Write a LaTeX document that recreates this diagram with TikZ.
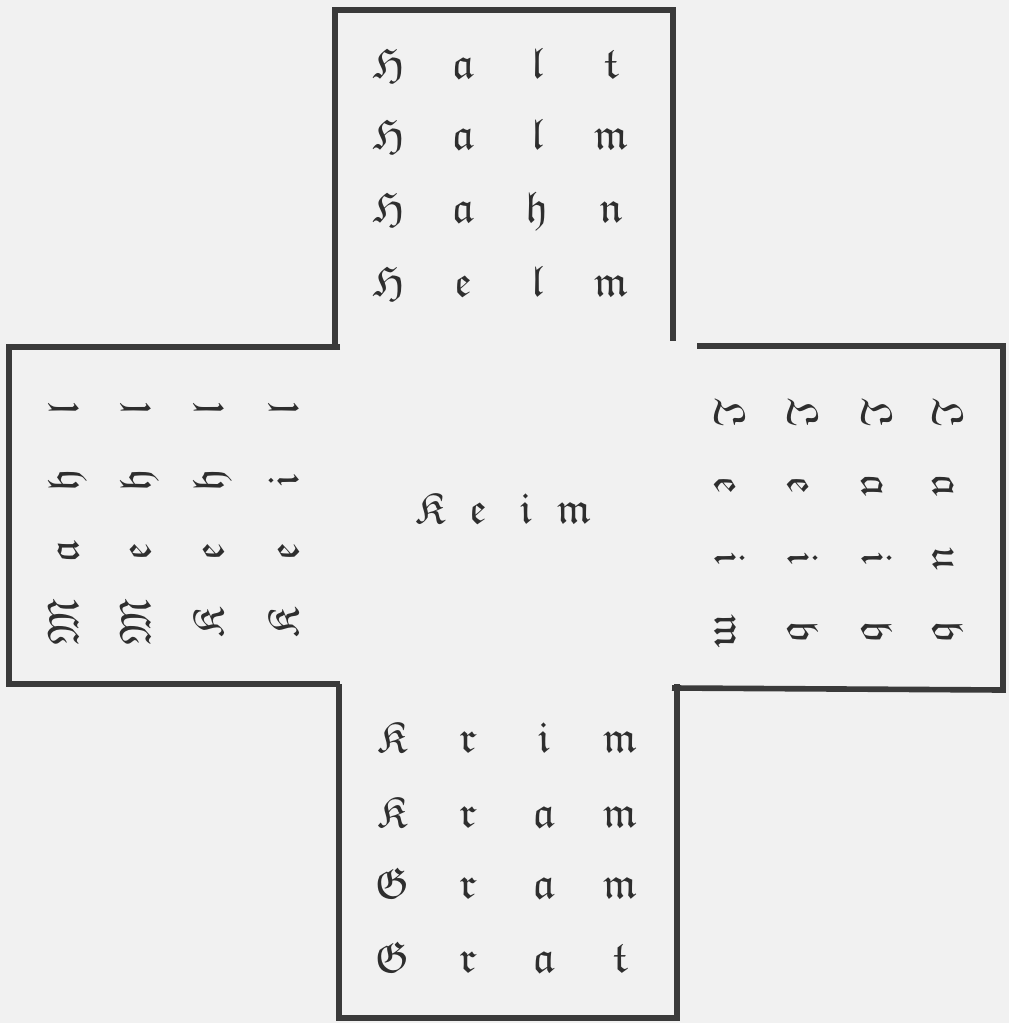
\documentclass[tikz,border=0pt]{standalone}
\usepackage{amssymb}
\usepackage{xcolor}

\definecolor{ink}{HTML}{2E2E2E}
\definecolor{rule}{HTML}{3A3A3A}
\definecolor{paper}{HTML}{F1F1F1}

% four letters of a word, each centred in a cell of width #1
\newcommand\frakcell[2]{\makebox[#1]{$\mathfrak{#2}$}}
\newcommand\spreadfour[5]{\frakcell{#1}{#2}\frakcell{#1}{#3}\frakcell{#1}{#4}\frakcell{#1}{#5}}
\newcommand\frakword[2][1.48cm]{\spreadfour{#1}#2}

\begin{document}
\begin{tikzpicture}[x=0.02cm, y=-0.02cm,
    word/.style={inner sep=0pt, anchor=base, text=ink,
        font=\fontsize{25}{28}\selectfont},
    arm/.style={draw=rule, line width=3.2pt}]
    \fill[paper] (0,0) rectangle (1009,1023);
    \useasboundingbox (0,0) rectangle (1009,1023);

    % 1. Umriss des Kreuzes
    \draw[arm] (335,348) -- (335,10) -- (673,10) -- (673,341);
    \draw[arm] (340,347) -- (9,347) -- (9,684) -- (340,684);
    \draw[arm] (697,346) -- (1003,346) -- (1003,690) -- (672,688);
    \draw[arm] (339,684) -- (339,1018) -- (677,1018) -- (677,684);

    % 2. Oberer Arm
    \node[word] (halt) at (500,79)  {\frakword{Halt}};
    \node[word] (halm) at (500,150) {\frakword{Halm}};
    \node[word] (hahn) at (500,223) {\frakword{Hahn}};
    \node[word] (helm) at (500,297) {\frakword{Helm}};

    % 3. Mitte
    \node[word] (keim) at (502,523) {\frakword[0.96cm]{Keim}};

    % 4. Unterer Arm
    \node[word] (krim) at (506,752) {\frakword[1.52cm]{Krim}};
    \node[word] (kram) at (506,827) {\frakword[1.52cm]{Kram}};
    \node[word] (gram) at (506,898) {\frakword[1.52cm]{Gram}};
    \node[word] (grat) at (506,972) {\frakword[1.52cm]{Grat}};

    % 5. Linker Arm (von unten nach oben zu lesen)
    \node[word, rotate=90] (mahl) at (78,516)  {\frakword[1.42cm]{Mahl}};
    \node[word, rotate=90] (mehl) at (150,516) {\frakword[1.42cm]{Mehl}};
    \node[word, rotate=90] (kehl) at (223,516) {\frakword[1.42cm]{Kehl}};
    \node[word, rotate=90] (keil) at (298,516) {\frakword[1.42cm]{Keil}};

    % 6. Rechter Arm (von oben nach unten zu lesen)
    \node[word, rotate=-90] (leim) at (715,522) {\frakword[1.46cm]{Leim}};
    \node[word, rotate=-90] (leib) at (788,522) {\frakword[1.46cm]{Leib}};
    \node[word, rotate=-90] (laib) at (862,522) {\frakword[1.46cm]{Laib}};
    \node[word, rotate=-90] (laub) at (933,522) {\frakword[1.46cm]{Laub}};
\end{tikzpicture}
\end{document}
